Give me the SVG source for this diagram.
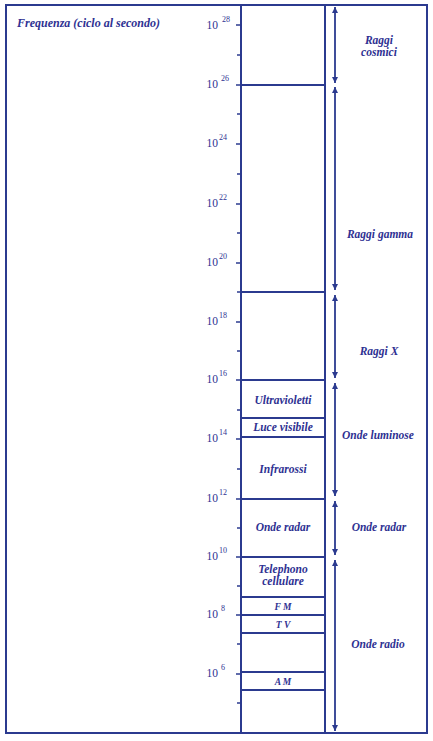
<svg xmlns="http://www.w3.org/2000/svg" width="433" height="741" viewBox="0 0 433 741">
<style>
.ln{stroke:#2b3a8f;stroke-width:2;fill:none}
.dv{stroke:#2b3a8f;stroke-width:1.8;fill:none}
.tk{stroke:#2b3a8f;stroke-width:1.5}
.lb{font-family:"Liberation Serif",serif;font-style:italic;font-weight:bold;font-size:11.5px;fill:#2e3192;text-anchor:middle}
.sm{font-size:9.5px}
.ex{font-family:"Liberation Serif",serif;font-size:11.5px;fill:#2e3192;text-anchor:end}
.sp{font-family:"Liberation Serif",serif;font-size:8px;fill:#2e3192}
</style>
<defs>
<marker id="ah" viewBox="0 0 6 6" refX="6" refY="3" markerWidth="6" markerHeight="6" markerUnits="userSpaceOnUse" orient="auto-start-reverse">
<path d="M0,0 L6,3 L0,6 z" fill="#2b3a8f"/>
</marker>
</defs>
<rect width="433" height="741" fill="#ffffff"/>
<g id="frame">
<rect class="ln" x="6" y="5" width="421" height="728"/>
<line class="ln" x1="241" y1="5" x2="241" y2="733"/>
<line class="ln" x1="325" y1="5" x2="325" y2="733"/>
</g>
<g id="title"><text class="lb" x="17" y="27" style="text-anchor:start;font-size:12px">Frequenza (ciclo al secondo)</text></g>
<g id="axis">
<g class="tk">
<line x1="236" y1="25" x2="241" y2="25"/><line x1="237" y1="55" x2="241" y2="55"/>
<line x1="236" y1="85" x2="241" y2="85"/><line x1="237" y1="114" x2="241" y2="114"/>
<line x1="236" y1="144" x2="241" y2="144"/><line x1="237" y1="174" x2="241" y2="174"/>
<line x1="236" y1="204" x2="241" y2="204"/><line x1="237" y1="233" x2="241" y2="233"/>
<line x1="236" y1="263" x2="241" y2="263"/><line x1="237" y1="292" x2="241" y2="292"/>
<line x1="236" y1="322" x2="241" y2="322"/><line x1="237" y1="351" x2="241" y2="351"/>
<line x1="236" y1="380" x2="241" y2="380"/><line x1="237" y1="410" x2="241" y2="410"/>
<line x1="236" y1="439" x2="241" y2="439"/><line x1="237" y1="469" x2="241" y2="469"/>
<line x1="236" y1="499" x2="241" y2="499"/><line x1="237" y1="528" x2="241" y2="528"/>
<line x1="236" y1="557" x2="241" y2="557"/><line x1="237" y1="586" x2="241" y2="586"/>
<line x1="236" y1="615" x2="241" y2="615"/><line x1="237" y1="644" x2="241" y2="644"/>
<line x1="236" y1="674" x2="241" y2="674"/><line x1="237" y1="703" x2="241" y2="703"/>
</g>
<text class="ex" x="218" y="29">10</text><text class="sp" x="222" y="22">28</text>
<text class="ex" x="218" y="88">10</text><text class="sp" x="221" y="81">26</text>
<text class="ex" x="218" y="147">10</text><text class="sp" x="219" y="140">24</text>
<text class="ex" x="218" y="207">10</text><text class="sp" x="219" y="200">22</text>
<text class="ex" x="218" y="266">10</text><text class="sp" x="219" y="259">20</text>
<text class="ex" x="218" y="325">10</text><text class="sp" x="219" y="318">18</text>
<text class="ex" x="218" y="383">10</text><text class="sp" x="219" y="376">16</text>
<text class="ex" x="218" y="442">10</text><text class="sp" x="219" y="435">14</text>
<text class="ex" x="218" y="502">10</text><text class="sp" x="219" y="495">12</text>
<text class="ex" x="218" y="560">10</text><text class="sp" x="219" y="553">10</text>
<text class="ex" x="218" y="618">10</text><text class="sp" x="221" y="611">8</text>
<text class="ex" x="218" y="677">10</text><text class="sp" x="221" y="670">6</text>
</g>
<g id="dividers">
<line class="dv" x1="241" y1="85" x2="325" y2="85"/>
<line class="dv" x1="241" y1="292" x2="325" y2="292"/>
<line class="dv" x1="241" y1="380" x2="325" y2="380"/>
<line class="dv" x1="241" y1="418" x2="325" y2="418"/>
<line class="dv" x1="241" y1="437" x2="325" y2="437"/>
<line class="dv" x1="241" y1="499" x2="325" y2="499"/>
<line class="dv" x1="241" y1="557" x2="325" y2="557"/>
<line class="dv" x1="241" y1="597" x2="325" y2="597"/>
<line class="dv" x1="241" y1="615" x2="325" y2="615"/>
<line class="dv" x1="241" y1="633" x2="325" y2="633"/>
<line class="dv" x1="241" y1="672" x2="325" y2="672"/>
<line class="dv" x1="241" y1="690" x2="325" y2="690"/>
</g>
<g id="bands">
<text class="lb" x="283" y="404">Ultravioletti</text>
<text class="lb" x="283" y="431">Luce visibile</text>
<text class="lb" x="283" y="473">Infrarossi</text>
<text class="lb" x="283" y="531">Onde radar</text>
<text class="lb" x="283" y="573">Telephono</text>
<text class="lb" x="283" y="585">cellulare</text>
<text class="lb sm" x="283" y="610">F M</text>
<text class="lb sm" x="283" y="628">T V</text>
<text class="lb sm" x="283" y="685">A M</text>
</g>
<g id="connectors">
<line class="dv" x1="335" y1="7" x2="335" y2="83" marker-start="url(#ah)" marker-end="url(#ah)"/>
<line class="dv" x1="335" y1="87" x2="335" y2="290" marker-start="url(#ah)" marker-end="url(#ah)"/>
<line class="dv" x1="335" y1="295" x2="335" y2="378" marker-start="url(#ah)" marker-end="url(#ah)"/>
<line class="dv" x1="335" y1="383" x2="335" y2="496" marker-start="url(#ah)" marker-end="url(#ah)"/>
<line class="dv" x1="335" y1="501" x2="335" y2="555" marker-start="url(#ah)" marker-end="url(#ah)"/>
<line class="dv" x1="335" y1="560" x2="335" y2="731" marker-start="url(#ah)" marker-end="url(#ah)"/>
</g>
<g id="regions">
<text class="lb" x="379" y="44">Raggi</text>
<text class="lb" x="379" y="56">cosmici</text>
<text class="lb" x="380" y="238">Raggi gamma</text>
<text class="lb" x="379" y="355">Raggi X</text>
<text class="lb" x="378" y="439">Onde luminose</text>
<text class="lb" x="379" y="531">Onde radar</text>
<text class="lb" x="378" y="648">Onde radio</text>
</g>
</svg>
